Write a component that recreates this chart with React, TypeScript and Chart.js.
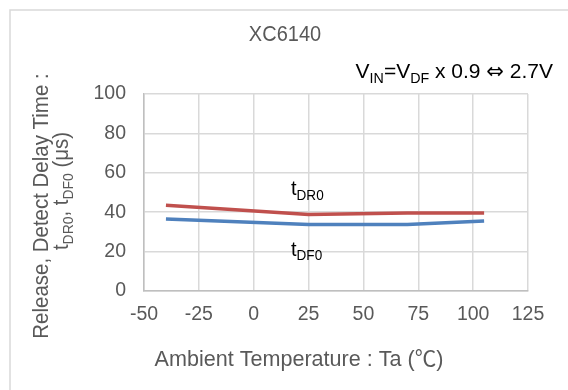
import React, { useEffect, useRef } from "react";
import { Chart, registerables } from "chart.js";

Chart.register(...registerables);

const temps = [-40, 25, 70, 105];
const tDR0 = [43.5, 38.8, 39.6, 39.6];
const tDF0 = [36.6, 33.8, 33.8, 35.5];
const xTicks = [-50, -25, 0, 25, 50, 75, 100, 125];
const yTicks = [0, 20, 40, 60, 80, 100];

const FONT = "'Liberation Sans', Arial, sans-serif";
const CJK = "'Noto Sans CJK JP', sans-serif";
const DEJAVU = "'DejaVu Sans', sans-serif";

type Part = [string, boolean, string?];

function drawParts(
  ctx: CanvasRenderingContext2D,
  parts: Part[],
  x: number,
  y: number,
  size: number,
  align: "left" | "center" | "right",
  color: string,
  sx = 1
) {
  const sub = size * 0.68;
  ctx.save();
  ctx.translate(x, y);
  ctx.scale(sx, 1);
  ctx.fillStyle = color;
  ctx.textBaseline = "alphabetic";
  ctx.textAlign = "left";
  let total = 0;
  for (const [t, s, f] of parts) {
    ctx.font = `${s ? sub : size}px ${f || FONT}`;
    total += ctx.measureText(t).width;
  }
  let cx = align === "left" ? 0 : align === "center" ? -total / 2 : -total;
  for (const [t, s, f] of parts) {
    ctx.font = `${s ? sub : size}px ${f || FONT}`;
    ctx.fillText(t, cx, s ? size * 0.22 : 0);
    cx += ctx.measureText(t).width;
  }
  ctx.restore();
}

const textPlugin = {
  id: "texts",
  beforeDraw(chart: any) {
    const ctx = chart.ctx as CanvasRenderingContext2D;
    ctx.save();
    ctx.strokeStyle = "#d9d9d9";
    ctx.lineWidth = 1.5;
    ctx.beginPath();
    ctx.moveTo(10, 400);
    ctx.lineTo(10, 10);
    ctx.lineTo(600, 10);
    ctx.stroke();
    ctx.restore();
  },
  afterDraw(chart: any) {
    const ctx = chart.ctx as CanvasRenderingContext2D;
    const xs = chart.scales.x;
    const ys = chart.scales.y;
    drawParts(ctx, [["XC6140", false]], 285, 41, 21.5, "center", "#595959", 0.93);
    drawParts(
      ctx,
      [["V", false], ["IN", true], ["=V", false], ["DF", true], [" x 0.9 ", false], ["\u21D4", false, DEJAVU], [" 2.7V", false]],
      553,
      78,
      21,
      "right",
      "#000000",
      1.0
    );
    drawParts(ctx, [["t", false], ["DR0", true]], xs.getPixelForValue(17), ys.getPixelForValue(48.5), 21, "left", "#000000", 0.95);
    drawParts(ctx, [["t", false], ["DF0", true]], xs.getPixelForValue(17), ys.getPixelForValue(18), 21, "left", "#000000", 0.95);
    drawParts(ctx, [["Ambient Temperature : Ta (", false], ["\u2103", false, CJK], [")", false]], 299, 366, 22, "center", "#595959", 0.98);
    ctx.save();
    ctx.translate(48, 206);
    ctx.rotate(-Math.PI / 2);
    drawParts(ctx, [["Release, Detect Delay Time :", false]], 0, 0, 22, "center", "#595959", 0.93);
    ctx.restore();
    ctx.save();
    ctx.translate(68, 191);
    ctx.rotate(-Math.PI / 2);
    drawParts(
      ctx,
      [["t", false], ["DR0", true], [", t", false], ["DF0", true], [" (\u03BCs)", false]],
      0,
      0,
      22,
      "center",
      "#595959",
      0.93
    );
    ctx.restore();
  },
};

export default function App() {
  const ref = useRef<HTMLCanvasElement | null>(null);
  useEffect(() => {
    if (!ref.current) return;
    const chart = new Chart(ref.current, {
      type: "scatter",
      data: {
        datasets: [
          {
            label: "tDR0",
            data: temps.map((t, i) => ({ x: t, y: tDR0[i] })),
            showLine: true,
            borderColor: "#c0504d",
            backgroundColor: "#c0504d",
            borderWidth: 3.5,
            pointRadius: 0,
            tension: 0,
          },
          {
            label: "tDF0",
            data: temps.map((t, i) => ({ x: t, y: tDF0[i] })),
            showLine: true,
            borderColor: "#4f81bd",
            backgroundColor: "#4f81bd",
            borderWidth: 3.5,
            pointRadius: 0,
            tension: 0,
          },
        ],
      },
      options: {
        responsive: false,
        animation: false,
        layout: { padding: { left: 0, top: 94, right: 40, bottom: 0 } },
        plugins: { legend: { display: false }, tooltip: { enabled: false } },
        scales: {
          x: {
            type: "linear",
            min: xTicks[0],
            max: xTicks[xTicks.length - 1],
            afterBuildTicks: (s: any) => {
              s.ticks = xTicks.map((v) => ({ value: v }));
            },
            afterFit: (s: any) => {
              s.height = 99;
            },
            grid: { color: "#d9d9d9", lineWidth: 1.5, drawTicks: false },
            border: { color: "#bfbfbf", width: 1.5 },
            ticks: {
              color: "#595959",
              font: { family: FONT, size: 19.5 },
              padding: 12,
              maxRotation: 0,
            },
          },
          y: {
            min: yTicks[0],
            max: yTicks[yTicks.length - 1],
            afterBuildTicks: (s: any) => {
              s.ticks = yTicks.map((v) => ({ value: v }));
            },
            afterFit: (s: any) => {
              s.width = 144;
            },
            grid: { color: "#d9d9d9", lineWidth: 1.5, drawTicks: false },
            border: { color: "#bfbfbf", width: 1.5 },
            ticks: {
              color: "#595959",
              font: { family: FONT, size: 19.5 },
              padding: 18,
            },
          },
        },
      },
      plugins: [textPlugin],
    });
    return () => chart.destroy();
  }, []);
  return (
    <div style={{ position: "absolute", left: 0, top: 0, width: 568, height: 390, background: "#fff" }}>
      <canvas ref={ref} width={568} height={390} style={{ width: 568, height: 390 }} />
    </div>
  );
}
